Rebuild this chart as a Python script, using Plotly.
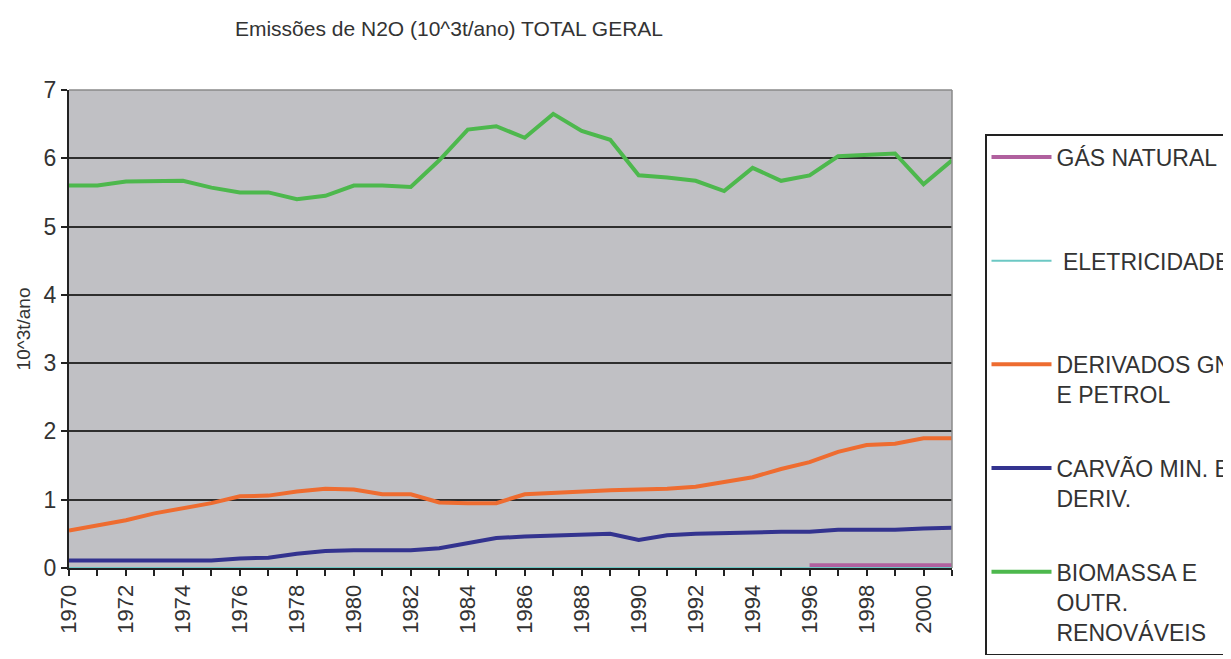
import plotly.graph_objects as go

years = list(range(1970, 2002))

gas_natural = [None] * 26 + [0.04, 0.04, 0.04, 0.04, 0.04, 0.04]
eletricidade = [0.0] * 32
derivados = [0.55, 0.62, 0.70, 0.80, 0.88, 0.95, 1.05, 1.06, 1.12, 1.16,
             1.15, 1.08, 1.08, 0.96, 0.95, 0.95, 1.08, 1.10, 1.13, 1.14,
             1.15, 1.16, 1.19, 1.26, 1.33, 1.45, 1.55, 1.70, 1.80, 1.82,
             1.90, 1.90]
carvao = [0.11, 0.11, 0.11, 0.11, 0.11, 0.11, 0.14, 0.15, 0.21, 0.25,
          0.26, 0.26, 0.26, 0.29, 0.36, 0.44, 0.46, 0.47, 0.49, 0.50,
          0.41, 0.48, 0.50, 0.51, 0.53, 0.53, 0.53, 0.56, 0.56, 0.56,
          0.58, 0.59]
biomassa = [5.60, 5.60, 5.66, 5.67, 5.67, 5.57, 5.50, 5.50, 5.40, 5.45,
            5.60, 5.60, 5.58, 5.97, 6.42, 6.47, 6.30, 6.65, 6.40, 6.27,
            5.75, 5.72, 5.67, 5.52, 5.86, 5.67, 5.75, 6.03, 6.05, 6.07,
            5.62, 5.97]

tick_years = list(range(1970, 2001, 2))
tick_labels = [str(y) for y in tick_years]

NB = "\u00a0"
series = [
    ("GÁS NATURAL" + "<br>" + NB + "<br>" + NB, gas_natural, "#B0609E", 4),
    (NB + "ELETRICIDADE" + "<br>" + NB + "<br>" + NB, eletricidade, "#6CC8C4", 2),
    ("DERIVADOS GN<br>E PETROL<br>" + NB, derivados, "#EE6C30", 4),
    ("CARVÃO MIN. E<br>DERIV.<br>" + NB, carvao, "#33338F", 4),
    ("BIOMASSA E<br>OUTR.<br>RENOVÁVEIS", biomassa, "#4DB84D", 4),
]

fig = go.Figure()
for i, (name, vals, color, w) in enumerate(series):
    fig.add_trace(go.Scatter(
        x=years, y=vals, name=name, mode="lines",
        line=dict(color=color, width=w),
        legendgroup="g%d" % i,
    ))

# page body has an 8px margin, so the figure is 8px smaller and shifted
W, H = 1223, 651
fig.update_layout(
    width=W, height=H,
    margin=dict(l=61, r=279, t=82, b=91, autoexpand=False),
    paper_bgcolor="white",
    plot_bgcolor="#C0C0C4",
    font=dict(family="Liberation Sans, Arial, sans-serif", color="#333333"),
    title=dict(text="Emissões de N2O (10^3t/ano) TOTAL GERAL",
               x=441 / W, xanchor="center", y=1 - 21 / H, yanchor="middle",
               font=dict(size=21, color="#333333")),
    showlegend=True,
    legend=dict(
        x=(985 - 69) / 883, xanchor="left",
        y=(568 - 134) / 478, yanchor="top",
        bgcolor="white", bordercolor="#222222", borderwidth=1.5,
        font=dict(size=23, color="#333333"),
        valign="top", tracegroupgap=11, itemwidth=60,
        maxheight=800,
    ),
    xaxis=dict(
        range=[1970, 2001], tickvals=tick_years, ticktext=tick_labels,
        tickangle=-90, ticks="outside", ticklen=6, tickwidth=1.5, tickcolor="#222222",
        minor=dict(dtick=1, tick0=1970, ticks="outside", ticklen=6, tickwidth=1.5,
                   tickcolor="#222222", showgrid=False),
        showgrid=False, zeroline=False,
        showline=True, linecolor="#222222", linewidth=2,
        tickfont=dict(size=22, color="#333333"),
        mirror=False,
    ),
    yaxis=dict(
        range=[0, 7], dtick=1, ticks="outside", ticklen=6, tickwidth=1.5,
        tickcolor="#222222",
        showgrid=True, gridcolor="#2E2E2E", gridwidth=2,
        zeroline=False, showline=True, linecolor="#222222", linewidth=2,
        tickfont=dict(size=23, color="#333333"),
        title=dict(text="10^3t/ano", font=dict(size=19, color="#333333"), standoff=8),
    ),
    shapes=[
        dict(type="line", xref="paper", yref="paper", x0=0, x1=1, y0=1, y1=1,
             line=dict(color="#8A8A8A", width=1.5)),
        dict(type="line", xref="paper", yref="paper", x0=1, x1=1, y0=0, y1=1,
             line=dict(color="#8A8A8A", width=1.5)),
    ],
)

fig.write_html("out.html")
